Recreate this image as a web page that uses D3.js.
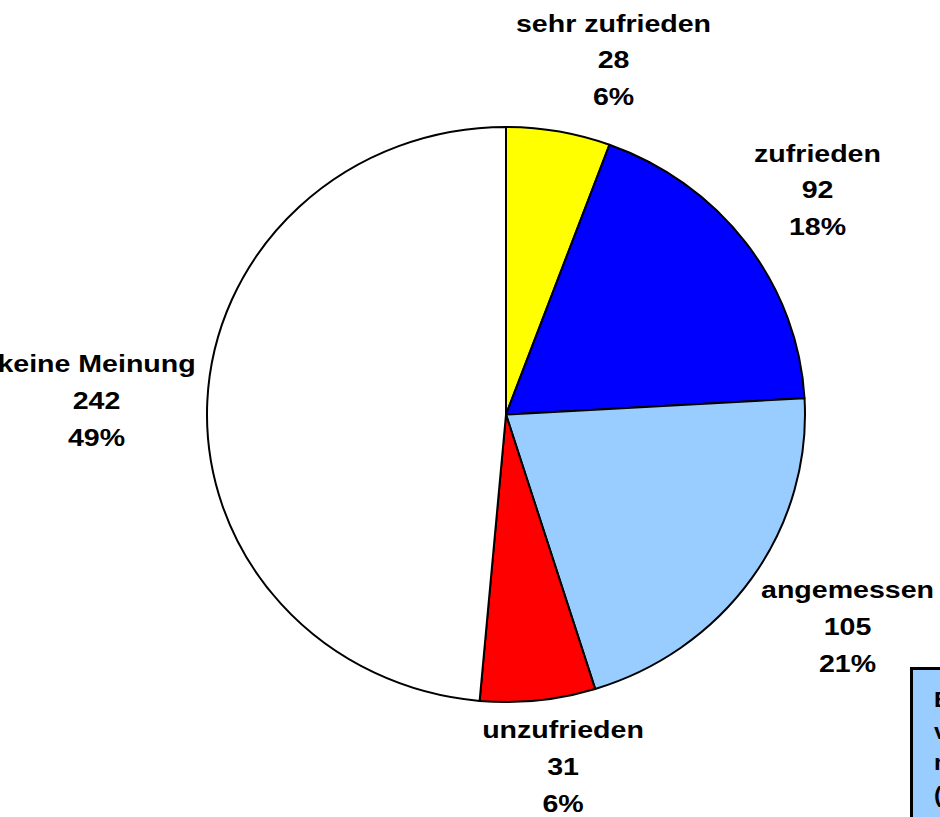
<!DOCTYPE html>
<html>
<head>
<meta charset="utf-8">
<script src="https://cdn.jsdelivr.net/npm/d3@7"></script>
<style>
  html, body { margin: 0; padding: 0; background: #fff; overflow: hidden; }
  svg { display: block; }
  text { font-family: "Liberation Sans", Arial, sans-serif; font-weight: bold; fill: #000; }
</style>
</head>
<body>
<svg id="chart" width="940" height="817"></svg>
<script>
// ---- data ----
const categories = ["sehr zufrieden", "zufrieden", "angemessen", "unzufrieden", "keine Meinung"];
const counts = [28, 92, 105, 31, 242];
const percentLabels = ["6%", "18%", "21%", "6%", "49%"];
const sliceColors = ["#ffff00", "#0000ff", "#99ccff", "#ff0000", "#ffffff"];
const noteLines = ["Bewertung", "von", "n = 498", "(Mehrfachnennung)"];

// ---- layout ----
const W = 940, H = 817;
const cx = 506, cy = 414.5, rx = 299, ry = 287.5;
// label block centres (x) and first baseline (y)
const labelAnchors = [
  [613.5, 31.5],
  [817.5, 161.5],
  [847.5, 598],
  [563, 738],
  [96.5, 372]
];
const lineStep = 36.8;
const fontSize = 24, stretch = 1.19;

const svg = d3.select("#chart");

const pie = d3.pie().sort(null).value(d => d)(counts);
const arc = d3.arc().innerRadius(0).outerRadius(rx);

const g = svg.append("g")
  .attr("transform", `translate(${cx},${cy}) scale(1,${ry / rx})`);

g.selectAll("path")
  .data(pie)
  .join("path")
  .attr("d", arc)
  .attr("fill", (d, i) => sliceColors[i])
  .attr("stroke", "#000")
  .attr("stroke-width", 2)
  .attr("stroke-linejoin", "round")
  .attr("vector-effect", "non-scaling-stroke");

// labels
pie.forEach((d, i) => {
  const [lx, ly] = labelAnchors[i];
  const lines = [categories[i], String(counts[i]), percentLabels[i]];
  lines.forEach((t, k) => {
    svg.append("text")
      .attr("transform", `translate(${lx},${ly + k * lineStep}) scale(${stretch},1)`)
      .attr("text-anchor", "middle")
      .attr("font-size", fontSize)
      .text(t);
  });
});

// note box (partly outside the view)
svg.append("rect")
  .attr("x", 911.5).attr("y", 668.5)
  .attr("width", 200).attr("height", 200)
  .attr("fill", "#99ccff")
  .attr("stroke", "#000")
  .attr("stroke-width", 3);

noteLines.forEach((t, k) => {
  svg.append("text")
    .attr("transform", `translate(934,${707 + k * 31.5}) scale(1.1,1)`)
    .attr("font-size", 22)
    .text(t);
});
</script>
</body>
</html>
